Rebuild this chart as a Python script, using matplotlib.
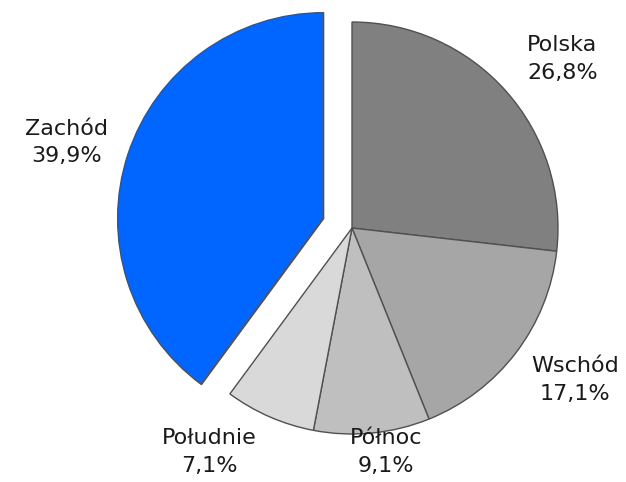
import numpy as np
import matplotlib
matplotlib.use("Agg")
import matplotlib.pyplot as plt

# data
regions = ["Polska", "Wschód", "Północ", "Południe", "Zachód"]
shares = [26.8, 17.1, 9.1, 7.1, 39.9]
colors = ["#808080", "#a6a6a6", "#bfbfbf", "#d9d9d9", "#0066ff"]
explode = [0, 0, 0, 0, 0.145]
# label placement: radial distance and small angle nudge (degrees)
label_dist = [1.31, 1.31, 1.10, 1.29, 1.30]
label_nudge = [-3, 3, 3, -9, 1.6]

fig = plt.figure(figsize=(6.26, 4.82), dpi=100)
ax = fig.add_axes([0, 0, 1, 1])

wedges, _ = ax.pie(shares, colors=colors, explode=explode, startangle=90,
                   counterclock=False, radius=1.0,
                   wedgeprops=dict(edgecolor="#505050", linewidth=1.0))

for w, name, val, d, nd in zip(wedges, regions, shares, label_dist, label_nudge):
    mid = np.radians((w.theta1 + w.theta2) / 2 + nd)
    cx, cy = w.center
    x = cx + d * np.cos(mid)
    y = cy + d * np.sin(mid)
    txt = f"{name}\n{val:.1f}%".replace(".", ",")
    ax.text(x, y, txt, ha="center", va="center", fontsize=16,
            color="#1a1a1a", linespacing=1.45)

R = 206.0
ax.set_xlim(-352 / R, (626 - 352) / R)
ax.set_ylim(-(482 - 228) / R, 228 / R)
ax.set_aspect("equal")
ax.axis("off")

fig.savefig("out.png", dpi=100)
